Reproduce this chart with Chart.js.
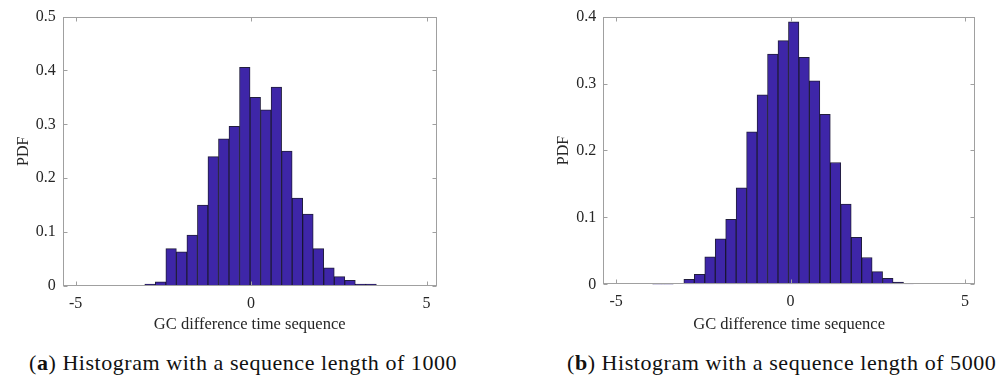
<!DOCTYPE html>
<html>
<head>
<meta charset="utf-8">
<script src="https://cdn.jsdelivr.net/npm/chart.js@4.4.1/dist/chart.umd.min.js"></script>
<style>
    body { margin: 0; background: #fff; width: 1008px; height: 376px; position: relative; overflow: hidden; }
    .panel { position: absolute; top: 0; }
    .caption {
        position: absolute;
        top: 352px;
        font-family: 'Liberation Serif', serif;
        font-size: 22px;
        line-height: 22px;
        letter-spacing: 0.55px;
        color: #111;
        white-space: nowrap;
    }
</style>
</head>
<body>
<div class="panel" style="left:0px;"><canvas id="histChart1000" width="450" height="340"></canvas></div>
<div class="panel" style="left:540px;"><canvas id="histChart5000" width="450" height="340"></canvas></div>
<div class="caption" style="left:29px;">(<b>a</b>) Histogram with a sequence length of 1000</div>
<div class="caption" style="left:567px;">(<b>b</b>) Histogram with a sequence length of 5000</div>

<script>
// Histogram data (bin centres and PDF heights)
const binCenters1000 = [-2.88, -2.58, -2.28, -1.98, -1.68, -1.38, -1.08, -0.78, -0.48, -0.18, 0.12,
    0.42, 0.72, 1.02, 1.32, 1.62, 1.92, 2.22, 2.52, 2.82, 3.12, 3.42];
const pdf1000 = [0.003, 0.007, 0.069, 0.063, 0.094, 0.150, 0.240, 0.273, 0.296, 0.406, 0.350,
    0.327, 0.369, 0.250, 0.163, 0.133, 0.069, 0.033, 0.017, 0.010, 0.003, 0.003];

const binCenters5000 = [-3.81, -3.51, -3.21, -2.91, -2.61, -2.31, -2.01, -1.71, -1.41, -1.11, -0.81,
    -0.51, -0.21, 0.09, 0.39, 0.69, 0.99, 1.29, 1.59, 1.89, 2.19, 2.49, 2.79, 3.09, 3.39];
const pdf5000 = [0.001, 0.001, 0, 0.0075, 0.015, 0.041, 0.068, 0.097, 0.144, 0.228, 0.283,
    0.344, 0.364, 0.392, 0.339, 0.304, 0.254, 0.182, 0.120, 0.070, 0.040, 0.019, 0.009, 0.0035, 0.0015];

// Tick values and labels
const xTicks = [-5, 0, 5];
const xTickLabels = ['-5', '0', '5'];
const yTicks1000 = [0, 0.1, 0.2, 0.3, 0.4, 0.5];
const yTickLabels1000 = ['0', '0.1', '0.2', '0.3', '0.4', '0.5'];
const yTicks5000 = [0, 0.1, 0.2, 0.3, 0.4];
const yTickLabels5000 = ['0', '0.1', '0.2', '0.3', '0.4'];

const barColor = 'rgb(62, 38, 168)';
const edgeColor = 'rgba(10, 5, 40, 0.9)';
const axisColor = '#a0a0a0';
const textColor = '#262626';
const fontFamily = "'Liberation Serif', 'Times New Roman', serif";

// Plugin drawing the MATLAB-style box and inward tick marks
const boxTicksPlugin = {
    id: 'boxTicks',
    afterDatasetsDraw(chart) {
        const { ctx, chartArea: a, scales } = chart;
        const l = Math.round(a.left) + 0.5, r = Math.round(a.right) - 0.5;
        const t = Math.round(a.top) + 0.5, b = Math.round(a.bottom) - 0.5;
        ctx.save();
        ctx.strokeStyle = axisColor;
        ctx.lineWidth = 1;
        ctx.strokeRect(l, t, r - l, b - t);
        ctx.beginPath();
        scales.x.ticks.forEach(tick => {
            const px = Math.round(scales.x.getPixelForValue(tick.value)) + 0.5;
            ctx.moveTo(px, b); ctx.lineTo(px, b - 4);
            ctx.moveTo(px, t); ctx.lineTo(px, t + 4);
        });
        scales.y.ticks.forEach(tick => {
            const py = Math.round(scales.y.getPixelForValue(tick.value)) + 0.5;
            ctx.moveTo(l, py); ctx.lineTo(l + 4, py);
            ctx.moveTo(r, py); ctx.lineTo(r - 4, py);
        });
        ctx.stroke();
        ctx.restore();
    }
};

// Function to Render one histogram panel
function renderHistogram(canvasId, centers, values, yTicks, yLabels, area) {
    const ctx = document.getElementById(canvasId).getContext('2d');

    return new Chart(ctx, {
        type: 'bar',
        data: {
            datasets: [{
                data: centers.map((c, i) => ({ x: c, y: values[i] })),
                backgroundColor: barColor,
                borderColor: edgeColor,
                borderWidth: 1,
                barPercentage: 1,
                categoryPercentage: 1
            }]
        },
        options: {
            responsive: false,
            animation: false,
            layout: {
                padding: { left: 0, top: area.top, right: area.right, bottom: 0 }
            },
            plugins: {
                legend: { display: false },
                tooltip: { enabled: false }
            },
            scales: {
                x: {
                    type: 'linear',
                    min: -5.37,
                    max: 5.29,
                    offset: false,
                    grid: { display: false, drawTicks: false, offset: false },
                    border: { display: false },
                    afterBuildTicks: scale => { scale.ticks = xTicks.map(v => ({ value: v })); },
                    afterFit: scale => { scale.height = area.xHeight; },
                    ticks: {
                        autoSkip: false,
                        maxRotation: 0,
                        padding: 8,
                        color: textColor,
                        font: { family: fontFamily, size: 16 },
                        callback: (v, i) => xTickLabels[i]
                    },
                    title: {
                        display: true,
                        text: 'GC difference time sequence',
                        color: textColor,
                        font: { family: fontFamily, size: 16.5 },
                        padding: { top: 0, bottom: 5 }
                    }
                },
                y: {
                    min: 0,
                    max: yTicks[yTicks.length - 1],
                    grid: { display: false, drawTicks: false },
                    border: { display: false },
                    afterBuildTicks: scale => { scale.ticks = yTicks.map(v => ({ value: v })); },
                    afterFit: scale => { scale.width = area.yWidth; },
                    ticks: {
                        padding: 7,
                        color: textColor,
                        font: { family: fontFamily, size: 16 },
                        callback: (v, i) => yLabels[i]
                    },
                    title: {
                        display: true,
                        text: 'PDF',
                        color: textColor,
                        font: { family: fontFamily, size: 16 },
                        padding: { top: 14, bottom: 0 }
                    }
                }
            }
        },
        plugins: [boxTicksPlugin]
    });
}

renderHistogram('histChart1000', binCenters1000, pdf1000, yTicks1000, yTickLabels1000,
    { top: 16.7, right: 13.3, xHeight: 54.3, yWidth: 62.7 });
renderHistogram('histChart5000', binCenters5000, pdf5000, yTicks5000, yTickLabels5000,
    { top: 16, right: 15, xHeight: 55.7, yWidth: 63.3 });
</script>
</body>
</html>
